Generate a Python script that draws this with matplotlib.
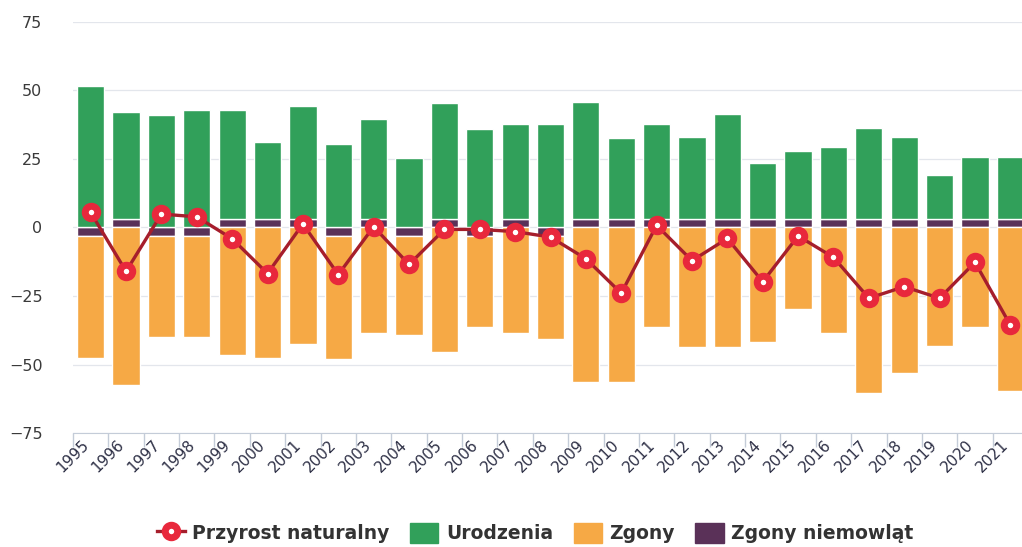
import numpy as np
import matplotlib
matplotlib.use("Agg")
from matplotlib import pyplot as plt
from matplotlib.lines import Line2D
from matplotlib.patches import Patch
from matplotlib.transforms import ScaledTranslation

# dane
lata = [str(r) for r in range(1995, 2022)]
urodzenia = [51.5, 39.3, 41.0, 43.0, 40.0, 28.3, 41.5, 30.4, 36.5, 25.5, 42.3, 35.8, 34.7, 37.7,
             42.7, 29.8, 34.8, 29.9, 38.3, 20.4, 24.9, 26.3, 33.4, 30.1, 16.2, 22.6, 22.6]
zgony = [-44.7, -57.5, -36.8, -36.8, -46.5, -47.7, -42.5, -45.1, -38.6, -36.2, -45.5, -33.4, -38.4, -37.7,
         -56.3, -56.3, -36.2, -43.5, -43.5, -41.7, -29.7, -38.4, -60.3, -53.2, -43.2, -36.4, -59.6]
zgony_niem = [-3, 3, -3, -3, 3, 3, 3, -3, 3, -3, 3, -3, 3, -3,
              3, 3, 3, 3, 3, 3, 3, 3, 3, 3, 3, 3, 3]
przyrost = [5.5, -16.0, 4.9, 3.9, -4.1, -16.8, 1.3, -17.2, 0.3, -13.5, -0.7, -0.7, -1.5, -3.5,
            -11.4, -24.0, 0.8, -12.1, -4.0, -19.8, -3.1, -10.9, -25.8, -21.6, -25.8, -12.7, -35.6]

c_ur = "#31a05a"
c_zg = "#f6a945"
c_ni = "#5a3158"
c_pn = "#e8283c"
c_lin = "#a61e2c"

fig = plt.figure(figsize=(10.22, 5.47), dpi=100)
ax = fig.add_axes([0.0714, 0.2084, 0.9345, 0.7514])

x = np.arange(len(lata))
ni = np.array(zgony_niem, dtype=float)
w = 0.77

# stos: niemowlęta przy zerze, reszta na nich
ax.bar(x, ni, w, color=c_ni, edgecolor="white", linewidth=1, zorder=2)
ax.bar(x, urodzenia, w, bottom=np.maximum(ni, 0), color=c_ur, edgecolor="white", linewidth=1, zorder=2)
ax.bar(x, zgony, w, bottom=np.minimum(ni, 0), color=c_zg, edgecolor="white", linewidth=1, zorder=2)

ax.plot(x, przyrost, color=c_lin, lw=2.4, zorder=3)
ax.plot(x, przyrost, ls="none", marker="o", ms=9, mew=5, mfc="white", mec=c_pn, zorder=4)

ax.set_xlim(-0.5, len(lata) - 0.5)
ax.set_ylim(-75, 75)
ax.set_yticks([-75, -50, -25, 0, 25, 50, 75])
ax.yaxis.grid(True, color="#e3e6ec", lw=0.9, zorder=0)
ax.tick_params(axis="y", length=0, pad=22, labelsize=11.5, labelcolor="#3a3a3a")

for s in ["top", "right", "left"]:
    ax.spines[s].set_visible(False)
ax.spines["bottom"].set_color("#c4ccd8")

ax.set_xticks(np.arange(-0.5, len(lata)), [""] * (len(lata) + 1))
ax.tick_params(axis="x", which="major", length=10, color="#c4ccd8", width=1)
ax.set_xticks(x, lata, minor=True)
ax.tick_params(axis="x", which="minor", length=0, pad=7, labelsize=11, labelcolor="#2e3046")
for lab in ax.get_xticklabels(minor=True):
    lab.set_rotation(45)
    lab.set_ha("right")
    lab.set_va("center")
    lab.set_rotation_mode("anchor")
    lab.set_transform(lab.get_transform() + ScaledTranslation(-3 / 72, 0, fig.dpi_scale_trans))

uchwyty = [
    Line2D([0], [0], color=c_lin, lw=2.4, marker="o", ms=9, mew=5, mfc="white", mec=c_pn),
    Patch(color=c_ur),
    Patch(color=c_zg),
    Patch(color=c_ni),
]
fig.legend(uchwyty, ["Przyrost naturalny", "Urodzenia", "Zgony", "Zgony niemowląt"],
           loc="center", bbox_to_anchor=(535 / 1022, 1 - 533 / 547), ncol=4, frameon=False,
           prop={"weight": "bold", "size": 13.5}, handlelength=1.5, handleheight=1.3,
           handletextpad=0.4, columnspacing=1.1, labelcolor="#333333")

fig.savefig("out.png", dpi=100, facecolor="white")
